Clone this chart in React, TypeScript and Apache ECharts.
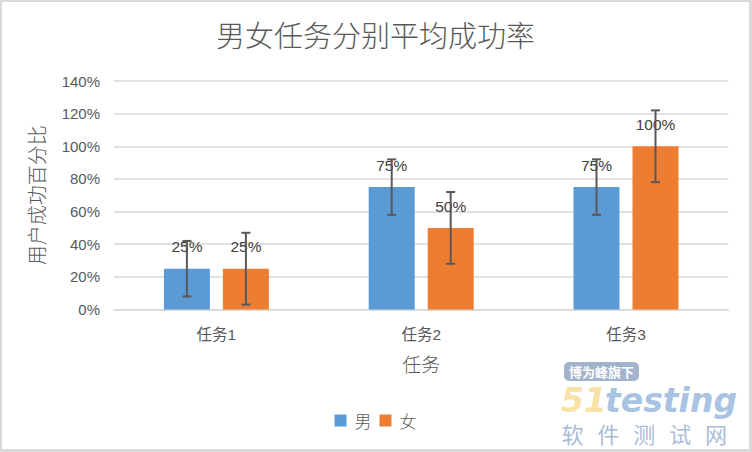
import React, { useEffect, useRef } from "react";
import * as echarts from "echarts";

const categories = ["任务1", "任务2", "任务3"];
const maleValues = [25, 75, 75];
const femaleValues = [25, 50, 100];
const maleErrors = [17, 17, 17];
const femaleErrors = [22, 22, 22];
const yTicks = { min: 0, max: 140, interval: 20 };
const watermarkChars = ["软", "件", "测", "试", "网"];

const FONT = "'Liberation Sans', 'Noto Sans CJK SC', sans-serif";
const CJK = "'Noto Sans CJK SC', 'Liberation Sans', sans-serif";
const BAR_W = 46;
const BAR_GAP = 13;

function errorSeries(name: string, values: number[], errs: number[], offset: number) {
  const data = values.map((v, i) => [i, v - errs[i], v + errs[i]]);
  return {
    name: name + "误差",
    type: "custom",
    z: 5,
    data,
    encode: { x: 0, y: [1, 2] },
    silent: true,
    renderItem: (_params: any, api: any) => {
      const idx = api.value(0);
      const lo = api.coord([idx, api.value(1)]);
      const hi = api.coord([idx, api.value(2)]);
      const x = lo[0] + offset;
      const cap = 4.5;
      const style = { stroke: "#595959", lineWidth: 2 };
      return {
        type: "group",
        children: [
          { type: "line", shape: { x1: x, y1: lo[1], x2: x, y2: hi[1] }, style },
          { type: "line", shape: { x1: x - cap, y1: lo[1], x2: x + cap, y2: lo[1] }, style },
          { type: "line", shape: { x1: x - cap, y1: hi[1], x2: x + cap, y2: hi[1] }, style },
        ],
      };
    },
  };
}

export default function App() {
  const ref = useRef<HTMLDivElement>(null);
  useEffect(() => {
    if (!ref.current) return;
    const chart = echarts.init(ref.current, null, { renderer: "svg" });
    const label = {
      show: true,
      position: "top",
      distance: 14,
      formatter: "{c}%",
      color: "#404040",
      fontSize: 15.5,
      fontFamily: FONT,
    };
    const off = (BAR_W + BAR_GAP) / 2;
    chart.setOption({
      animation: false,
      backgroundColor: "#ffffff",
      title: {
        text: "男女任务分别平均成功率",
        left: "center",
        top: 12,
        textStyle: { fontSize: 29, fontWeight: 300, color: "#595959", fontFamily: CJK },
      },
      legend: {
        data: ["男", "女"],
        bottom: 15,
        left: "center",
        icon: "rect",
        itemWidth: 12,
        itemHeight: 12,
        itemGap: 8,
        textStyle: { fontSize: 17, color: "#595959", fontFamily: CJK, fontWeight: 300, padding: [0, 0, 0, 3] },
      },
      grid: { left: 112, right: 20.6, top: 79, bottom: 139.5 },
      xAxis: {
        type: "category",
        data: categories,
        name: "任务",
        nameLocation: "middle",
        nameGap: 44,
        nameTextStyle: { fontSize: 19, color: "#595959", fontFamily: CJK, fontWeight: 300 },
        axisTick: { show: false },
        axisLine: { lineStyle: { color: "#d9d9d9", width: 1.5 } },
        axisLabel: { color: "#595959", fontSize: 15.5, margin: 17, fontFamily: FONT },
      },
      yAxis: {
        type: "value",
        min: yTicks.min,
        max: yTicks.max,
        interval: yTicks.interval,
        name: "用户成功百分比",
        nameLocation: "middle",
        nameGap: 68,
        nameRotate: 90,
        nameTextStyle: { fontSize: 20, color: "#595959", fontFamily: CJK, fontWeight: 300 },
        axisLine: { show: false },
        axisTick: { show: false },
        axisLabel: { formatter: "{value}%", color: "#595959", fontSize: 15, margin: 14, fontFamily: FONT },
        splitLine: { lineStyle: { color: "#d9d9d9", width: 1.5 } },
      },
      series: [
        {
          name: "男",
          type: "bar",
          data: maleValues,
          barWidth: BAR_W,
          barGap: (BAR_GAP / BAR_W) * 100 + "%",
          itemStyle: { color: "#5b9bd5" },
          label,
        },
        {
          name: "女",
          type: "bar",
          data: femaleValues,
          barWidth: BAR_W,
          itemStyle: { color: "#ed7d31" },
          label,
        },
        errorSeries("男", maleValues, maleErrors, -off),
        errorSeries("女", femaleValues, femaleErrors, off),
      ],
      graphic: [
        {
          type: "rect",
          shape: { x: 562, y: 360, width: 75, height: 19, r: 5 },
          style: { fill: "#a3b3cb" },
        },
        {
          type: "text",
          x: 599.5,
          y: 369.5,
          style: {
            text: "博为峰旗下",
            fill: "#ffffff",
            fontSize: 13,
            fontWeight: "bold",
            fontFamily: CJK,
            align: "center",
            verticalAlign: "middle",
          },
        },
        {
          type: "text",
          x: 559,
          y: 398,
          style: {
            text: "51",
            fill: "#f9e2a6",
            fontSize: 33,
            fontWeight: "bold",
            fontStyle: "italic",
            fontFamily: "'DejaVu Sans', sans-serif",
            verticalAlign: "middle",
          },
        },
        {
          type: "text",
          x: 603,
          y: 398,
          style: {
            text: "testing",
            fill: "#a9c3e3",
            fontSize: 33,
            fontWeight: "bold",
            fontStyle: "italic",
            fontFamily: "'DejaVu Sans', sans-serif",
            verticalAlign: "middle",
          },
        },
        ...watermarkChars.map((c, i) => ({
          type: "text",
          x: 570.5 + i * 35.9,
          y: 430.5,
          style: {
            text: c,
            fill: "#a9bcd6",
            fontSize: 22,
            fontFamily: CJK,
            align: "center",
            verticalAlign: "middle",
          },
        })),
      ],
    });
    return () => chart.dispose();
  }, []);
  return (
    <div
      style={{
        position: "fixed",
        left: 0,
        top: 0,
        width: 752,
        height: 452,
        boxSizing: "border-box",
        borderStyle: "solid",
        borderColor: "#d9d9d9",
        borderWidth: "2px 3px 3px 2px",
        background: "#ffffff",
      }}
    >
      <div ref={ref} style={{ width: 747, height: 447 }} />
    </div>
  );
}
